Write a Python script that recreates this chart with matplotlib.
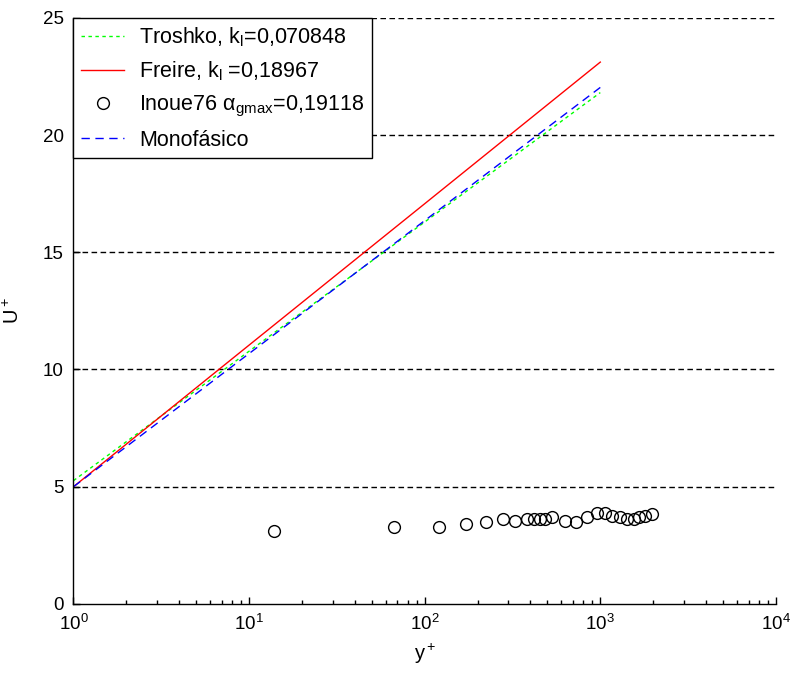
import matplotlib
matplotlib.use("Agg")
import matplotlib.pyplot as plt
from matplotlib.ticker import LogLocator, NullFormatter

plt.rcParams['font.family'] = ['Liberation Sans', 'DejaVu Sans']
plt.rcParams['mathtext.fontset'] = 'custom'
plt.rcParams['mathtext.rm'] = 'Liberation Sans'
plt.rcParams['mathtext.it'] = 'Liberation Sans'
plt.rcParams['mathtext.default'] = 'regular'

# Wall-law profiles (U+ against y+)
yplus_line = [1, 10, 100, 1000]
u_troshko = [5.26, 10.78, 16.29, 21.81]
u_freire = [5.00, 11.04, 17.07, 23.11]
u_mono = [5.00, 10.68, 16.35, 22.03]

# Inoue (1976) measurements
yplus_inoue = [13.8, 67.3, 120, 172, 223, 279, 325, 382, 417, 451, 486, 531,
               632, 728, 840, 958, 1068, 1167, 1300, 1420, 1549, 1652, 1803, 1971]
u_inoue = [3.11, 3.30, 3.30, 3.40, 3.48, 3.64, 3.54, 3.64, 3.64, 3.64, 3.64, 3.72,
           3.54, 3.50, 3.72, 3.90, 3.90, 3.75, 3.72, 3.64, 3.64, 3.72, 3.75, 3.83]

yticks = [0, 5, 10, 15, 20, 25]

fig = plt.figure(figsize=(7.91, 6.84), dpi=100)
ax = fig.add_axes([0.0929, 0.117, 0.888, 0.857])

for yv in yticks[1:]:
    ax.axhline(yv, color='black', lw=1.0, ls=(0, (4, 2.5)), zorder=0)

ax.plot(yplus_line, u_troshko, color='#00ff00', lw=1.0, ls=(0, (2.5, 2.5)),
        label='Troshko, k$_l$=0,070848')
ax.plot(yplus_line, u_freire, color='#ff0000', lw=1.0, ls='-',
        label='Freire, k$_l$ =0,18967')
ax.plot(yplus_inoue, u_inoue, ls='none', marker='o', ms=8.5, mfc='none',
        mec='black', mew=1.0, label=r'Inoue76 $\alpha_{gmax}$=0,19118')
ax.plot(yplus_line, u_mono, color='#0000ff', lw=1.0, ls=(0, (6, 4)),
        label='Monofásico')

ax.set_xscale('log')
ax.set_xlim(1, 1e4)
ax.set_ylim(0, 25)
ax.set_yticks(yticks)
ax.xaxis.set_major_locator(LogLocator(base=10, numticks=10))
ax.xaxis.set_minor_locator(LogLocator(base=10, subs=range(2, 10), numticks=50))
ax.xaxis.set_minor_formatter(NullFormatter())

ax.spines['top'].set_visible(False)
ax.spines['right'].set_visible(False)
for s in ('left', 'bottom'):
    ax.spines[s].set_linewidth(1.0)
ax.tick_params(which='major', direction='in', length=5, width=1.0,
               labelsize=13.5, colors='black', pad=7)
ax.tick_params(which='minor', direction='in', length=3, width=1.0)

ax.set_xlabel('y$^+$', fontsize=14.5, labelpad=6)
ax.set_ylabel('U$^+$', fontsize=14.5)
ax.yaxis.set_label_coords(-0.072, 0.5)

leg = ax.legend(loc='upper left', bbox_to_anchor=(0.0, 1.0), fontsize=15.5,
                frameon=True, fancybox=False, framealpha=1, edgecolor='black',
                borderaxespad=0.0, handlelength=2.0, handletextpad=0.7,
                labelspacing=0.5, borderpad=0.35)
leg.get_frame().set_linewidth(1.0)

fig.savefig('out.png', dpi=100)
